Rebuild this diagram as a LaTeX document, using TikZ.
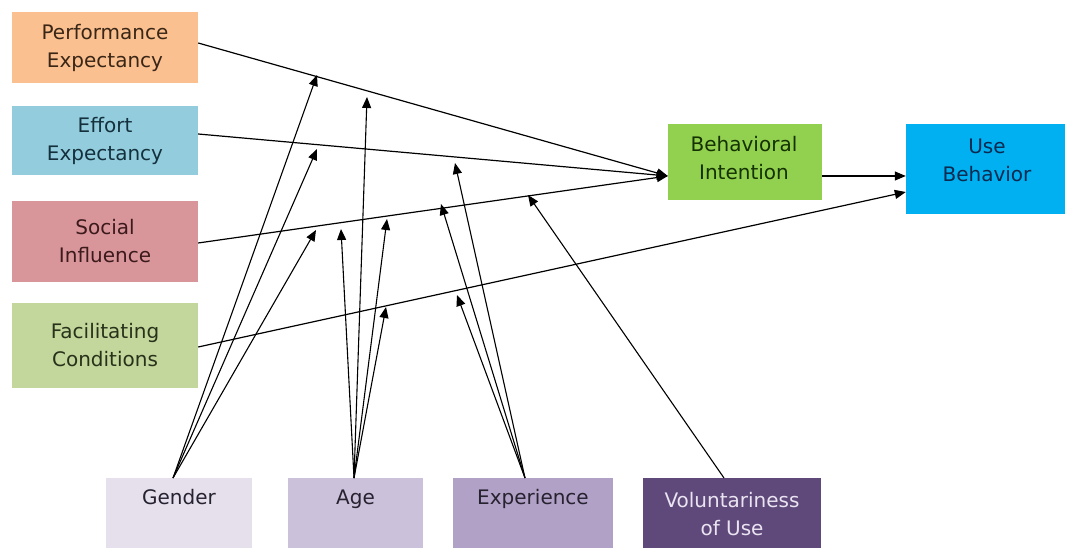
\documentclass[tikz,border=0pt]{standalone}
\usepackage{fontspec}
\setmainfont{DejaVu Sans}
\usetikzlibrary{arrows.meta}
\definecolor{pecol}{HTML}{FAC090}
\definecolor{eecol}{HTML}{93CDDD}
\definecolor{sicol}{HTML}{D9969A}
\definecolor{fccol}{HTML}{C3D69B}
\definecolor{bicol}{HTML}{92D050}
\definecolor{ubcol}{HTML}{00B0F0}
\definecolor{gecol}{HTML}{E5E0EC}
\definecolor{agcol}{HTML}{CCC1DA}
\definecolor{excol}{HTML}{B2A1C7}
\definecolor{vocol}{HTML}{5F497A}
\definecolor{petxt}{HTML}{3A2616}
\definecolor{eetxt}{HTML}{14303C}
\definecolor{sitxt}{HTML}{3C1A1C}
\definecolor{fctxt}{HTML}{28321A}
\definecolor{bitxt}{HTML}{143200}
\definecolor{ubtxt}{HTML}{0A2A50}
\definecolor{purtxt}{HTML}{262230}
\definecolor{votxt}{HTML}{EAE4F2}
\begin{document}
\begin{tikzpicture}[x=1pt,y=-1pt,
  box/.style={rectangle, draw=none, inner sep=0pt},
  txt/.style={font=\fontsize{20}{28}\selectfont, align=center, inner sep=0pt},
  conn/.style={draw=black, line width=1.2pt, -{Triangle[length=11pt,width=9pt]}},
  modc/.style={draw=black, line width=1.1pt, -{Triangle[length=11pt,width=9pt]}}]
\useasboundingbox[fill=white] (0,0) rectangle (1065,548);

% left boxes
\node[box, fill=pecol, minimum width=186pt, minimum height=71pt, txt, text=petxt] (pe) at (105,47.5) {Performance\\Expectancy};
\node[box, fill=eecol, minimum width=186pt, minimum height=69pt, txt, text=eetxt] (ee) at (105,140.5) {Effort\\Expectancy};
\node[box, fill=sicol, minimum width=186pt, minimum height=81pt, txt, text=sitxt] (si) at (105,241.5) {Social\\Influence};
\node[box, fill=fccol, minimum width=186pt, minimum height=85pt, txt, text=fctxt] (fc) at (105,345.5) {Facilitating\\Conditions};

% right boxes
\node[box, fill=bicol, minimum width=154pt, minimum height=76pt] (bi) at (745,162) {};
\node[txt, text=bitxt] (bitext) at (744,158) {Behavioral\\Intention};
\node[box, fill=ubcol, minimum width=159pt, minimum height=90pt] (ub) at (985.5,169) {};
\node[txt, text=ubtxt] (ubtext) at (987,160) {Use\\Behavior};

% bottom boxes
\node[box, fill=gecol, minimum width=146pt, minimum height=70pt] (ge) at (179,513) {};
\node[txt, text=purtxt, anchor=base] (getext) at (179,504) {Gender};
\node[box, fill=agcol, minimum width=135pt, minimum height=70pt] (ag) at (355.5,513) {};
\node[txt, text=purtxt, anchor=base] (agtext) at (355.5,504) {Age};
\node[box, fill=excol, minimum width=160pt, minimum height=70pt] (ex) at (533,513) {};
\node[txt, text=purtxt, anchor=base] (extext) at (533,504) {Experience};
\node[box, fill=vocol, minimum width=178pt, minimum height=70pt] (vo) at (732,513) {};
\node[txt, text=votxt] (votext) at (732,514) {Voluntariness\\of Use};

% connection points
\coordinate (biin) at ([yshift=-14pt]bi.west);
\coordinate (ubin1) at ([yshift=-7pt]ub.west);
\coordinate (ubin2) at ([yshift=-23pt]ub.west);

% main paths
\draw[conn] ([yshift=4.5pt]pe.east) -- (biin);
\draw[conn] ([yshift=6.5pt]ee.east) -- (biin);
\draw[conn] ([yshift=-1.5pt]si.east) -- (biin);
\draw[conn] ([yshift=-1.5pt]fc.east) -- (ubin2);
\draw[conn] (bi.east |- ubin1) -- (ubin1);

% moderator origins
\coordinate (gA) at (173,478);
\coordinate (aA) at (354,478);
\coordinate (eA) at (525,478);
\coordinate (vA) at (724,478);

% moderator targets
\coordinate (gPE) at (317,75);
\coordinate (gEE) at (317,149);
\coordinate (gSI) at (316,230);
\coordinate (aPE) at (367,97);
\coordinate (aSI1) at (341,229);
\coordinate (aSI2) at (387,219);
\coordinate (aFC) at (386,307);
\coordinate (eEE) at (455,163);
\coordinate (eSI) at (441,204);
\coordinate (eFC) at (457,295);
\coordinate (vSI) at (528,195);

\draw[modc] (gA) -- (gPE);
\draw[modc] (gA) -- (gEE);
\draw[modc] (gA) -- (gSI);
\draw[modc] (aA) -- (aPE);
\draw[modc] (aA) -- (aSI1);
\draw[modc] (aA) -- (aSI2);
\draw[modc] (aA) -- (aFC);
\draw[modc] (eA) -- (eEE);
\draw[modc] (eA) -- (eSI);
\draw[modc] (eA) -- (eFC);
\draw[modc] (vA) -- (vSI);
\end{tikzpicture}
\end{document}
